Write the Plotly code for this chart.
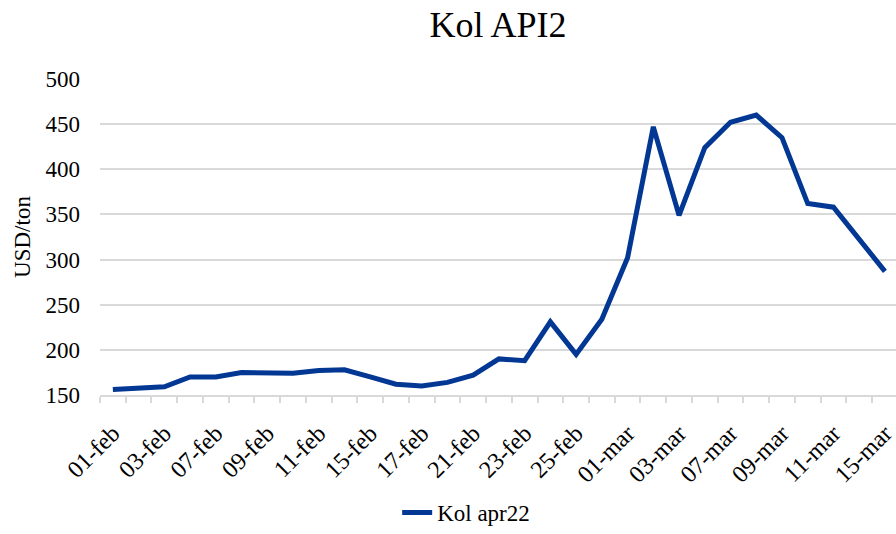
import plotly.graph_objects as go

dates = ["01-feb", "02-feb", "03-feb", "04-feb", "07-feb", "08-feb", "09-feb", "10-feb",
         "11-feb", "14-feb", "15-feb", "16-feb", "17-feb", "18-feb", "21-feb", "22-feb",
         "23-feb", "24-feb", "25-feb", "28-feb", "01-mar", "02-mar", "03-mar", "04-mar",
         "07-mar", "08-mar", "09-mar", "10-mar", "11-mar", "14-mar", "15-mar"]
kol_apr22 = [156, 158, 159, 170, 170, 175, 175, 174, 177, 178, 170, 162, 160, 164, 172, 190,
             188, 231, 195, 234, 302, 447, 349, 424, 452, 460, 435, 362, 358, 323, 287]
y_ticks = [150, 200, 250, 300, 350, 400, 450, 500]

idx = list(range(len(dates)))
label_idx = idx[::2]
label_text = dates[::2]
boundaries = [i - 0.5 for i in range(len(dates) + 1)]

font = "Liberation Serif, Times New Roman, serif"
blue = "#023894"
grid = "#d9d9d9"

fig = go.Figure()
fig.add_trace(go.Scatter(x=idx, y=kol_apr22, mode="lines", name="Kol apr22",
                         line=dict(color=blue, width=5), hoverinfo="x+y"))

fig.update_layout(
    width=896, height=534,
    paper_bgcolor="white", plot_bgcolor="white",
    margin=dict(l=100, r=0, t=79, b=135),
    font=dict(family=font, size=23, color="black"),
    title=dict(text="Kol API2", x=0.5, xref="paper", xanchor="center",
               yref="container", y=0.955, yanchor="middle",
               font=dict(family=font, size=36, color="black")),
    showlegend=True,
    legend=dict(orientation="h", x=0.46, xanchor="center", y=-0.372, yanchor="middle",
                font=dict(family=font, size=23, color="black")),
)
fig.update_xaxes(
    range=[-0.5, 30.43], tickmode="array", tickvals=label_idx, ticktext=label_text,
    tickangle=-45, showgrid=False, showline=True, linecolor=grid, linewidth=1.5,
    ticks="", zeroline=False, ticklabelstandoff=13, ticklabeloverflow="allow",
    automargin=False,
    minor=dict(tickmode="array", tickvals=boundaries, ticks="outside", ticklen=6,
               tickcolor=grid, tickwidth=1.5, showgrid=False),
    tickfont=dict(family=font, size=24, color="black"),
)
fig.update_yaxes(
    range=[150, 500], tickmode="array", tickvals=y_ticks, showgrid=True, gridcolor=grid,
    gridwidth=1.5, showline=False, zeroline=False, ticks="", ticklen=0,
    ticklabelstandoff=19, automargin=False,
    title=dict(text="USD/ton", font=dict(family=font, size=23, color="black"), standoff=8),
    tickfont=dict(family=font, size=23, color="black"),
)

fig.write_html("out.html", config={"displayModeBar": False},
               post_script="document.body.style.margin='0';")
